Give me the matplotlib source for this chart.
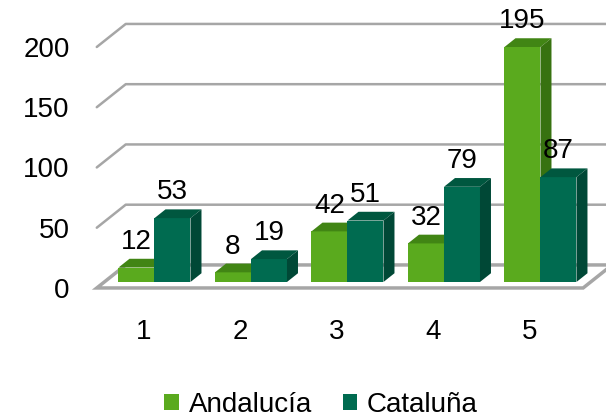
import matplotlib.pyplot as plt
from matplotlib.patches import Polygon

plt.rcParams['font.family'] = ['Liberation Sans', 'DejaVu Sans']

categorias = ['1', '2', '3', '4', '5']
andalucia = [12, 8, 42, 32, 195]
cataluna = [53, 19, 51, 79, 87]
marcas_y = [0, 50, 100, 150, 200]

# colores: frente, tapa, lateral
verde = ('#5AAA1E', '#418514', '#377210')
verde_osc = ('#006B50', '#00573F', '#004836')

ancho = 0.373          # ancho de cada barra (unidades de categoria)
DX, DY = 0.30, 19.1    # desplazamiento de toda la profundidad del suelo
prof_barra = 0.38      # profundidad de la barra (fraccion)
delante = 0.26         # distancia del frente del suelo al frente de las barras
margen = 0.52

fig = plt.figure(figsize=(6.06, 4.19), dpi=100)
ax = fig.add_axes([0, 0, 1, 1])
ax.set_xlim(-1.601, 4.679)
ax.set_ylim(-113.7, 234.0)
ax.axis('off')

x = list(range(len(categorias)))
gris = '#a6a6a6'

# suelo y lineas de division (pared izquierda y fondo)
x0 = -margen - delante * DX
x1 = len(categorias) - 1 + margen - delante * DX
fy = -delante * DY
bx, by = DX, DY
suelo = Polygon([(x0, fy), (x1, fy), (x1 + bx, fy + by), (x0 + bx, fy + by)],
                closed=True, facecolor='white', edgecolor=gris, lw=2.5, zorder=0.5)
ax.add_patch(suelo)
for v in marcas_y:
    if v > 0:
        ax.plot([x0, x0 + bx, 6], [v + fy, v + fy + by, v + fy + by],
                color=gris, lw=1.8, zorder=0.6, solid_capstyle='round')
    ax.text(x0 - 0.28, v + fy - 2.5, str(v), ha='right', va='center', fontsize=20)

# barras 3D: frente con ax.bar, tapa y lateral como poligonos
ddx, ddy = prof_barra * DX, prof_barra * DY
series = [('Andalucía', andalucia, -ancho, verde, 2),
          ('Cataluña', cataluna, 0, verde_osc, 3)]
for nombre, valores, desp, col, z in series:
    xs = [xi + desp for xi in x]
    ax.bar(xs, valores, width=ancho, align='edge', color=col[0],
           label=nombre, zorder=z, linewidth=0)
    for xi, v in zip(xs, valores):
        tapa = Polygon([(xi, v), (xi + ancho, v), (xi + ancho + ddx, v + ddy),
                        (xi + ddx, v + ddy)], closed=True, facecolor=col[1],
                       lw=0, zorder=z)
        lado = Polygon([(xi + ancho, 0), (xi + ancho + ddx, ddy),
                        (xi + ancho + ddx, v + ddy), (xi + ancho, v)],
                       closed=True, facecolor=col[2], lw=0, zorder=z)
        ax.add_patch(tapa)
        ax.add_patch(lado)
        ax.text(xi + ancho / 2, v + ddy + 8.3, str(v), ha='center',
                va='baseline', fontsize=20, zorder=10)

for xi, c in zip(x, categorias):
    ax.text(xi - 0.109, -41.5, c, ha='center', va='center', fontsize=20)

ax.legend(loc='center', bbox_to_anchor=(0.53, 0.033), ncol=2, frameon=False,
          fontsize=20, handlelength=0.52, handleheight=0.52,
          handletextpad=0.36, columnspacing=1.1, borderaxespad=0)

plt.savefig('out.png', dpi=100)
